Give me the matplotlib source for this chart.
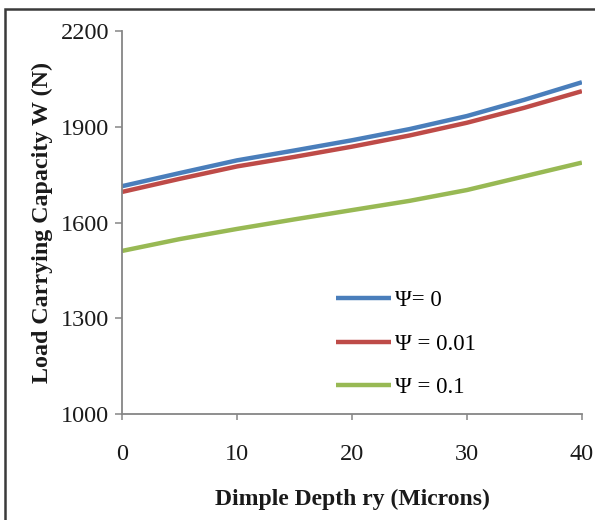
import matplotlib
matplotlib.use("Agg")
import matplotlib.pyplot as plt
from matplotlib.patches import Rectangle

plt.rcParams["font.family"] = ["Liberation Serif", "DejaVu Serif"]

# dimple depth (microns)
depth = [0, 5, 10, 15, 20, 25, 30, 35, 40]
# load carrying capacity W (N)
w_psi0 = [1714, 1755, 1795, 1826, 1858, 1893, 1934, 1985, 2040]
w_psi001 = [1696, 1737, 1776, 1806, 1838, 1873, 1913, 1960, 2012]
w_psi01 = [1511, 1548, 1580, 1610, 1639, 1668, 1702, 1745, 1788]

labels = ["\u03a8= 0", "\u03a8 = 0.01", "\u03a8 = 0.1"]
colors = ["#4a7ebb", "#be4b48", "#98b954"]

AXIS = "#868686"
TXT = "#1a1a1a"

fig = plt.figure(figsize=(5.95, 5.2), dpi=100)
ax = fig.add_axes([0.205, 0.204, 0.773, 0.736])

for w, lab, c in zip([w_psi0, w_psi001, w_psi01], labels, colors):
    ax.plot(depth, w, color=c, lw=3.2, label=lab, solid_capstyle="butt")

ax.set_xlim(0, 40)
ax.set_ylim(1000, 2200)
ax.set_xticks([0, 10, 20, 30, 40])
ax.set_yticks([1000, 1300, 1600, 1900, 2200])

for side in ["top", "right"]:
    ax.spines[side].set_visible(False)
for side in ["left", "bottom"]:
    ax.spines[side].set_color(AXIS)
    ax.spines[side].set_linewidth(1.3)

ax.tick_params(axis="x", direction="out", length=4.5, width=1.1, color=AXIS,
               pad=17, labelsize=17.5, labelcolor=TXT)
ax.tick_params(axis="y", direction="out", length=5, width=1.1, color=AXIS,
               pad=4, labelsize=17.5, labelcolor=TXT)

ax.set_xlabel("Dimple Depth ry (Microns)", fontsize=17, fontweight="bold",
              color=TXT, labelpad=17)
ax.set_ylabel("Load Carrying Capacity W (N)", fontsize=17.3, fontweight="bold",
              color=TXT, labelpad=6)

ax.legend(loc="upper left", bbox_to_anchor=(0.466, 0.323), frameon=False,
          fontsize=16.5, handlelength=2.4, handletextpad=0.15,
          labelspacing=0.97, borderpad=0, borderaxespad=0)

# outer frame of the figure panel
fig.patches.append(Rectangle((5 / 595, -0.1), 1.2, 0.1 + 1 - 9 / 520,
                             transform=fig.transFigure, fill=False,
                             edgecolor="#3a3a3a", lw=1.8))

fig.savefig("out.png", dpi=100)
